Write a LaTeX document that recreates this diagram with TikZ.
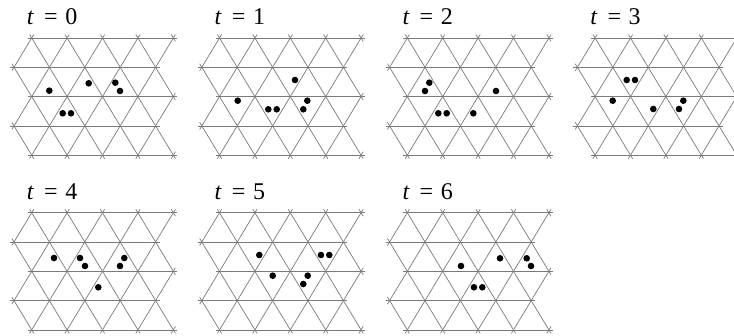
\documentclass[tikz,border=0pt]{standalone}
\usepackage{fontspec}
\setmainfont{Liberation Serif}
\begin{document}
\begin{tikzpicture}[x=1pt,y=-1pt,
  latline/.style={draw=black!52, line width=0.7pt},
  dot/.style={fill=black},
  lbl/.style={anchor=base west, inner sep=0pt, font=\fontsize{24}{28}\selectfont}]
\useasboundingbox (0,0) rectangle (734,336);
\clip (0,0) rectangle (734,336);
\def\latA{35.4}\def\latH{29.3}\def\ee{0.12}
\foreach \j/\m/\tv in {0/0/0,1/0/1,2/0/2,3/0/3,0/1/4,1/1/5,2/1/6}{
  \pgfmathsetmacro\ox{31.7+187.8*\j}
  \pgfmathsetmacro\oy{38+174.7*\m}
  \node[lbl] (lab\tv) at (\ox-5,\oy-13) {\textit{t}\hspace{0.42em}=\hspace{0.32em}\tv};
  \foreach \r/\ua/\ub in {0/0/8,1/-1/7,2/0/8,3/-1/7,4/0/8}
    \draw[latline] ({\ox+(\ua)*\latA/2-4},{\oy+\r*\latH}) -- ({\ox+(\ub)*\latA/2+4},{\oy+\r*\latH});
  \foreach \c/\ra/\rb in {-4/3/4,-2/1/4,0/0/4,2/0/4,4/0/4,6/0/2,8/0/0}
    \draw[latline] ({\ox+((\c)+\ra-\ee)*\latA/2},{\oy+(\ra-\ee)*\latH}) -- ({\ox+((\c)+\rb+\ee)*\latA/2},{\oy+(\rb+\ee)*\latH});
  \foreach \d/\ra/\rb in {0/0/1,2/0/3,4/0/4,6/0/4,8/0/4,10/2/4,12/4/4}
    \draw[latline] ({\ox+(\d-\ra+\ee)*\latA/2},{\oy+(\ra-\ee)*\latH}) -- ({\ox+(\d-\rb-\ee)*\latA/2},{\oy+(\rb+\ee)*\latH});
}
\foreach \px/\py in {49.3/90.7,88.7/83.3,115.3/82.7,120/91,62.7/113.3,71/113.3,
  295/80,237.7/100.7,268.3/109.3,276.7/109.3,307.3/100.7,303.3/109.3,
  429.3/82.7,425/91,496/91,438.3/113.3,446.7/113.3,473.3/113.3,
  626.7/80,635/80,612.7/100.7,653.3/109,683.3/100.7,679/109,
  54/258,80/258,85/266,124.3/258,120/266,98.3/287.3,
  259.3/255,321/255,329.3/255,272.7/275.7,307.7/275.7,303.3/284,
  461/266,500/258.3,526.7/258.3,531/266,474/287.3,482.3/287.3}
  \fill[dot] (\px,\py) circle[radius=3.3pt];
\end{tikzpicture}
\end{document}
